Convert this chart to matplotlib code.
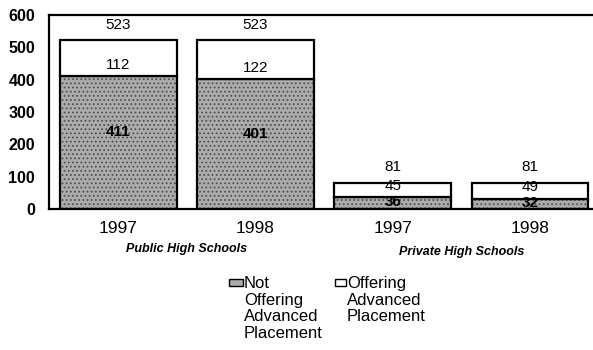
import matplotlib.pyplot as plt
from matplotlib.patches import Rectangle

plt.rcParams['font.family'] = ['Liberation Sans', 'DejaVu Sans']
plt.rcParams['hatch.linewidth'] = 0.8

# schools offering / not offering Advanced Placement
years = ["1997", "1998", "1997", "1998"]
groups = ["Public High Schools", "Private High Schools"]
not_offering = [411, 401, 36, 32]
offering = [112, 122, 45, 49]
totals = [523, 523, 81, 81]

x = list(range(len(years)))
width = 0.85
gray = "#acacac"
stipple = "#505050"

fig = plt.figure(figsize=(5.93, 3.5), dpi=100)
ax = fig.add_axes([0.0826, 0.403, 0.9174, 0.554])

# stippled gray base, then outlines on top
ax.bar(x, not_offering, width, color=gray, edgecolor=stipple,
       hatch="....", linewidth=0, zorder=2)
ax.bar(x, not_offering, width, fill=False, edgecolor="black", linewidth=1.6, zorder=3)
ax.bar(x, offering, width, bottom=not_offering, color="white",
       edgecolor="black", linewidth=1.6, zorder=3)

for i in x:
    ax.text(i, not_offering[i] * 0.58, str(not_offering[i]), ha="center", va="center",
            fontsize=11, fontweight="bold", zorder=4)
    ax.annotate(str(offering[i]), (i, not_offering[i]), xytext=(0, 3),
                textcoords="offset points", ha="center", va="bottom", fontsize=11, zorder=4)
    ax.annotate(str(totals[i]), (i, totals[i]), xytext=(0, 6),
                textcoords="offset points", ha="center", va="bottom", fontsize=11, zorder=4)

ax.set_xlim(-0.506, 3.46)
ax.set_ylim(0, 600)
ax.set_yticks(range(0, 601, 100))
ax.tick_params(axis="y", length=0, pad=10, labelsize=11.5)
for lbl in ax.get_yticklabels():
    lbl.set_fontweight("bold")
ax.set_xticks(x)
ax.set_xticklabels(years, fontsize=12.5)
ax.tick_params(axis="x", length=0, pad=9)

for side in ["left", "bottom", "top"]:
    ax.spines[side].set_linewidth(1.6)
ax.spines["right"].set_visible(False)

# group captions under the year labels
ax.text(0.5, -0.206, groups[0], transform=ax.get_xaxis_transform(), ha="center",
        va="center", fontsize=9, fontstyle="italic", fontweight="bold")
ax.text(2.5, -0.222, groups[1], transform=ax.get_xaxis_transform(), ha="center",
        va="center", fontsize=9, fontstyle="italic", fontweight="bold")

# legend drawn by hand so the swatches sit next to the first line
W, H = 593, 350
fig.patches.append(Rectangle((229 / W, 1 - 286 / H), 14 / W, 7 / H, transform=fig.transFigure,
                             facecolor=gray, edgecolor="black", linewidth=1))
fig.patches.append(Rectangle((335 / W, 1 - 286 / H), 11 / W, 7 / H, transform=fig.transFigure,
                             facecolor="white", edgecolor="black", linewidth=1))
fig.text(244 / W, 1 - 276 / H, "Not\nOffering\nAdvanced\nPlacement", ha="left", va="top",
         fontsize=12, linespacing=1.14)
fig.text(347 / W, 1 - 276 / H, "Offering\nAdvanced\nPlacement", ha="left", va="top",
         fontsize=12, linespacing=1.14)

fig.savefig("out.png", dpi=100)
